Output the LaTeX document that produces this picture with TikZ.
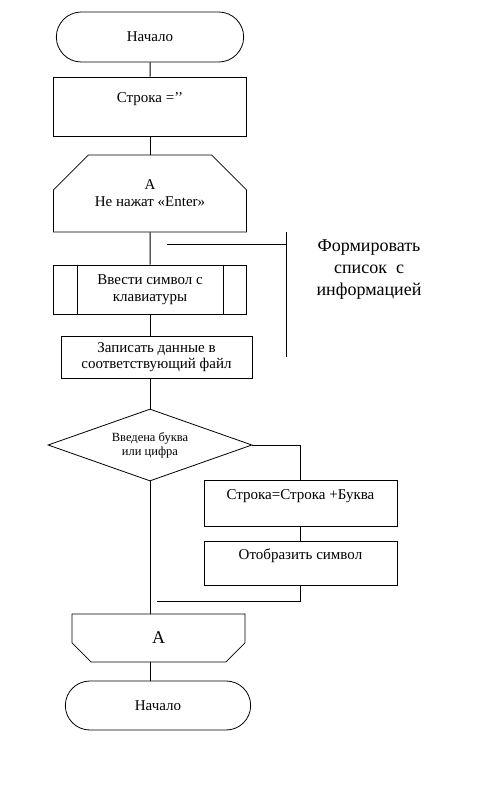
\documentclass[tikz,border=0pt]{standalone}
\usepackage{fontspec}
\setmainfont{Liberation Serif}
\usetikzlibrary{shapes.misc,shapes.geometric}

\tikzset{
  block/.style={draw, rectangle, align=center, inner sep=2pt, font=\fontsize{15}{17}\selectfont},
  terminal/.style={draw, rounded rectangle, font=\fontsize{15}{17}\selectfont},
  loopbox/.style={draw, chamfered rectangle, chamfered rectangle xsep=18pt, chamfered rectangle ysep=18pt, align=center, font=\fontsize{15}{17}\selectfont},
  line/.style={line width=1pt}
}

\begin{document}
\begin{tikzpicture}[x=1pt, y=-1pt, line width=0.8pt]
\useasboundingbox (0,0) rectangle (491,796);

% start and first assignment
\node[terminal, minimum width=194pt, minimum height=50pt] (start) at (150, 37) {Начало};
\node[block, minimum width=193pt, minimum height=59pt] (init) at (150, 106.5) {Строка =’’\\ \mbox{}};
\draw[line] (start) -- (init);

% loop head
\node[loopbox, chamfered rectangle corners={north west, north east}, minimum width=193pt, minimum height=77pt] (loopbeg) at (150, 193.5) {А\\Не нажат «Enter»};
\draw[line] (init) -- (loopbeg);

% read a key
\node[block, minimum width=193pt, minimum height=49pt] (input) at (150, 289.5) {Ввести символ с\\клавиатуры};
\draw ([xshift=24pt]input.north west) -- ([xshift=24pt]input.south west);
\draw ([xshift=-24pt]input.north east) -- ([xshift=-24pt]input.south east);
\draw[line] (loopbeg) -- (input);

\node[block, minimum width=191pt, minimum height=42pt, font=\fontsize{15}{16}\selectfont] (write) at (156.5, 357) {Записать данные в\\соответствующий файл};
\draw[line] (input.south) -- (input.south |- write.north);

% the comment
\node[align=center, font=\fontsize{18}{22}\selectfont] (note) at (369, 270) {Формировать\\список\ \ с\\информацией};
\coordinate (brtop) at (286, 232);
\coordinate (brbot) at (286, 357);
\coordinate (annot) at (167, 244);
\draw (brtop) -- (brbot);
\draw (annot) -- (annot -| brtop);

% test the key
\node[draw, diamond, aspect=2.83, minimum width=204pt, minimum height=72pt, inner sep=0pt, align=center, font=\fontsize{12.5}{14}\selectfont] (check) at (150, 445) {Введена буква\\или цифра};
\draw[line] (write.south -| start) -- (check.north);

\node[block, minimum width=193pt, minimum height=46pt] (add) at (300.5, 503) {Строка=Строка +Буква\\ \mbox{}};
\node[block, minimum width=193pt, minimum height=44pt] (show) at (300.5, 563) {Отобразить символ\\ \mbox{}};
\draw[line] (check.east) -| (add.north);
\draw[line] (add) -- (show);

\coordinate (merge) at (157, 601);
\draw[line] (show.south) |- (merge);

% loop end
\node[draw, chamfered rectangle, chamfered rectangle corners={south west, south east}, chamfered rectangle xsep=14pt, chamfered rectangle ysep=11pt, minimum width=173pt, minimum height=48pt, font=\fontsize{18}{20}\selectfont] (loopend) at (158.5, 638) {А};
\draw[line] (check.south) -- (loopend.north -| start);

\node[terminal, minimum width=192pt, minimum height=49pt] (finish) at (158, 705.5) {Начало};
\draw[line] (loopend.south -| start) -- (finish.north -| start);

\end{tikzpicture}
\end{document}
